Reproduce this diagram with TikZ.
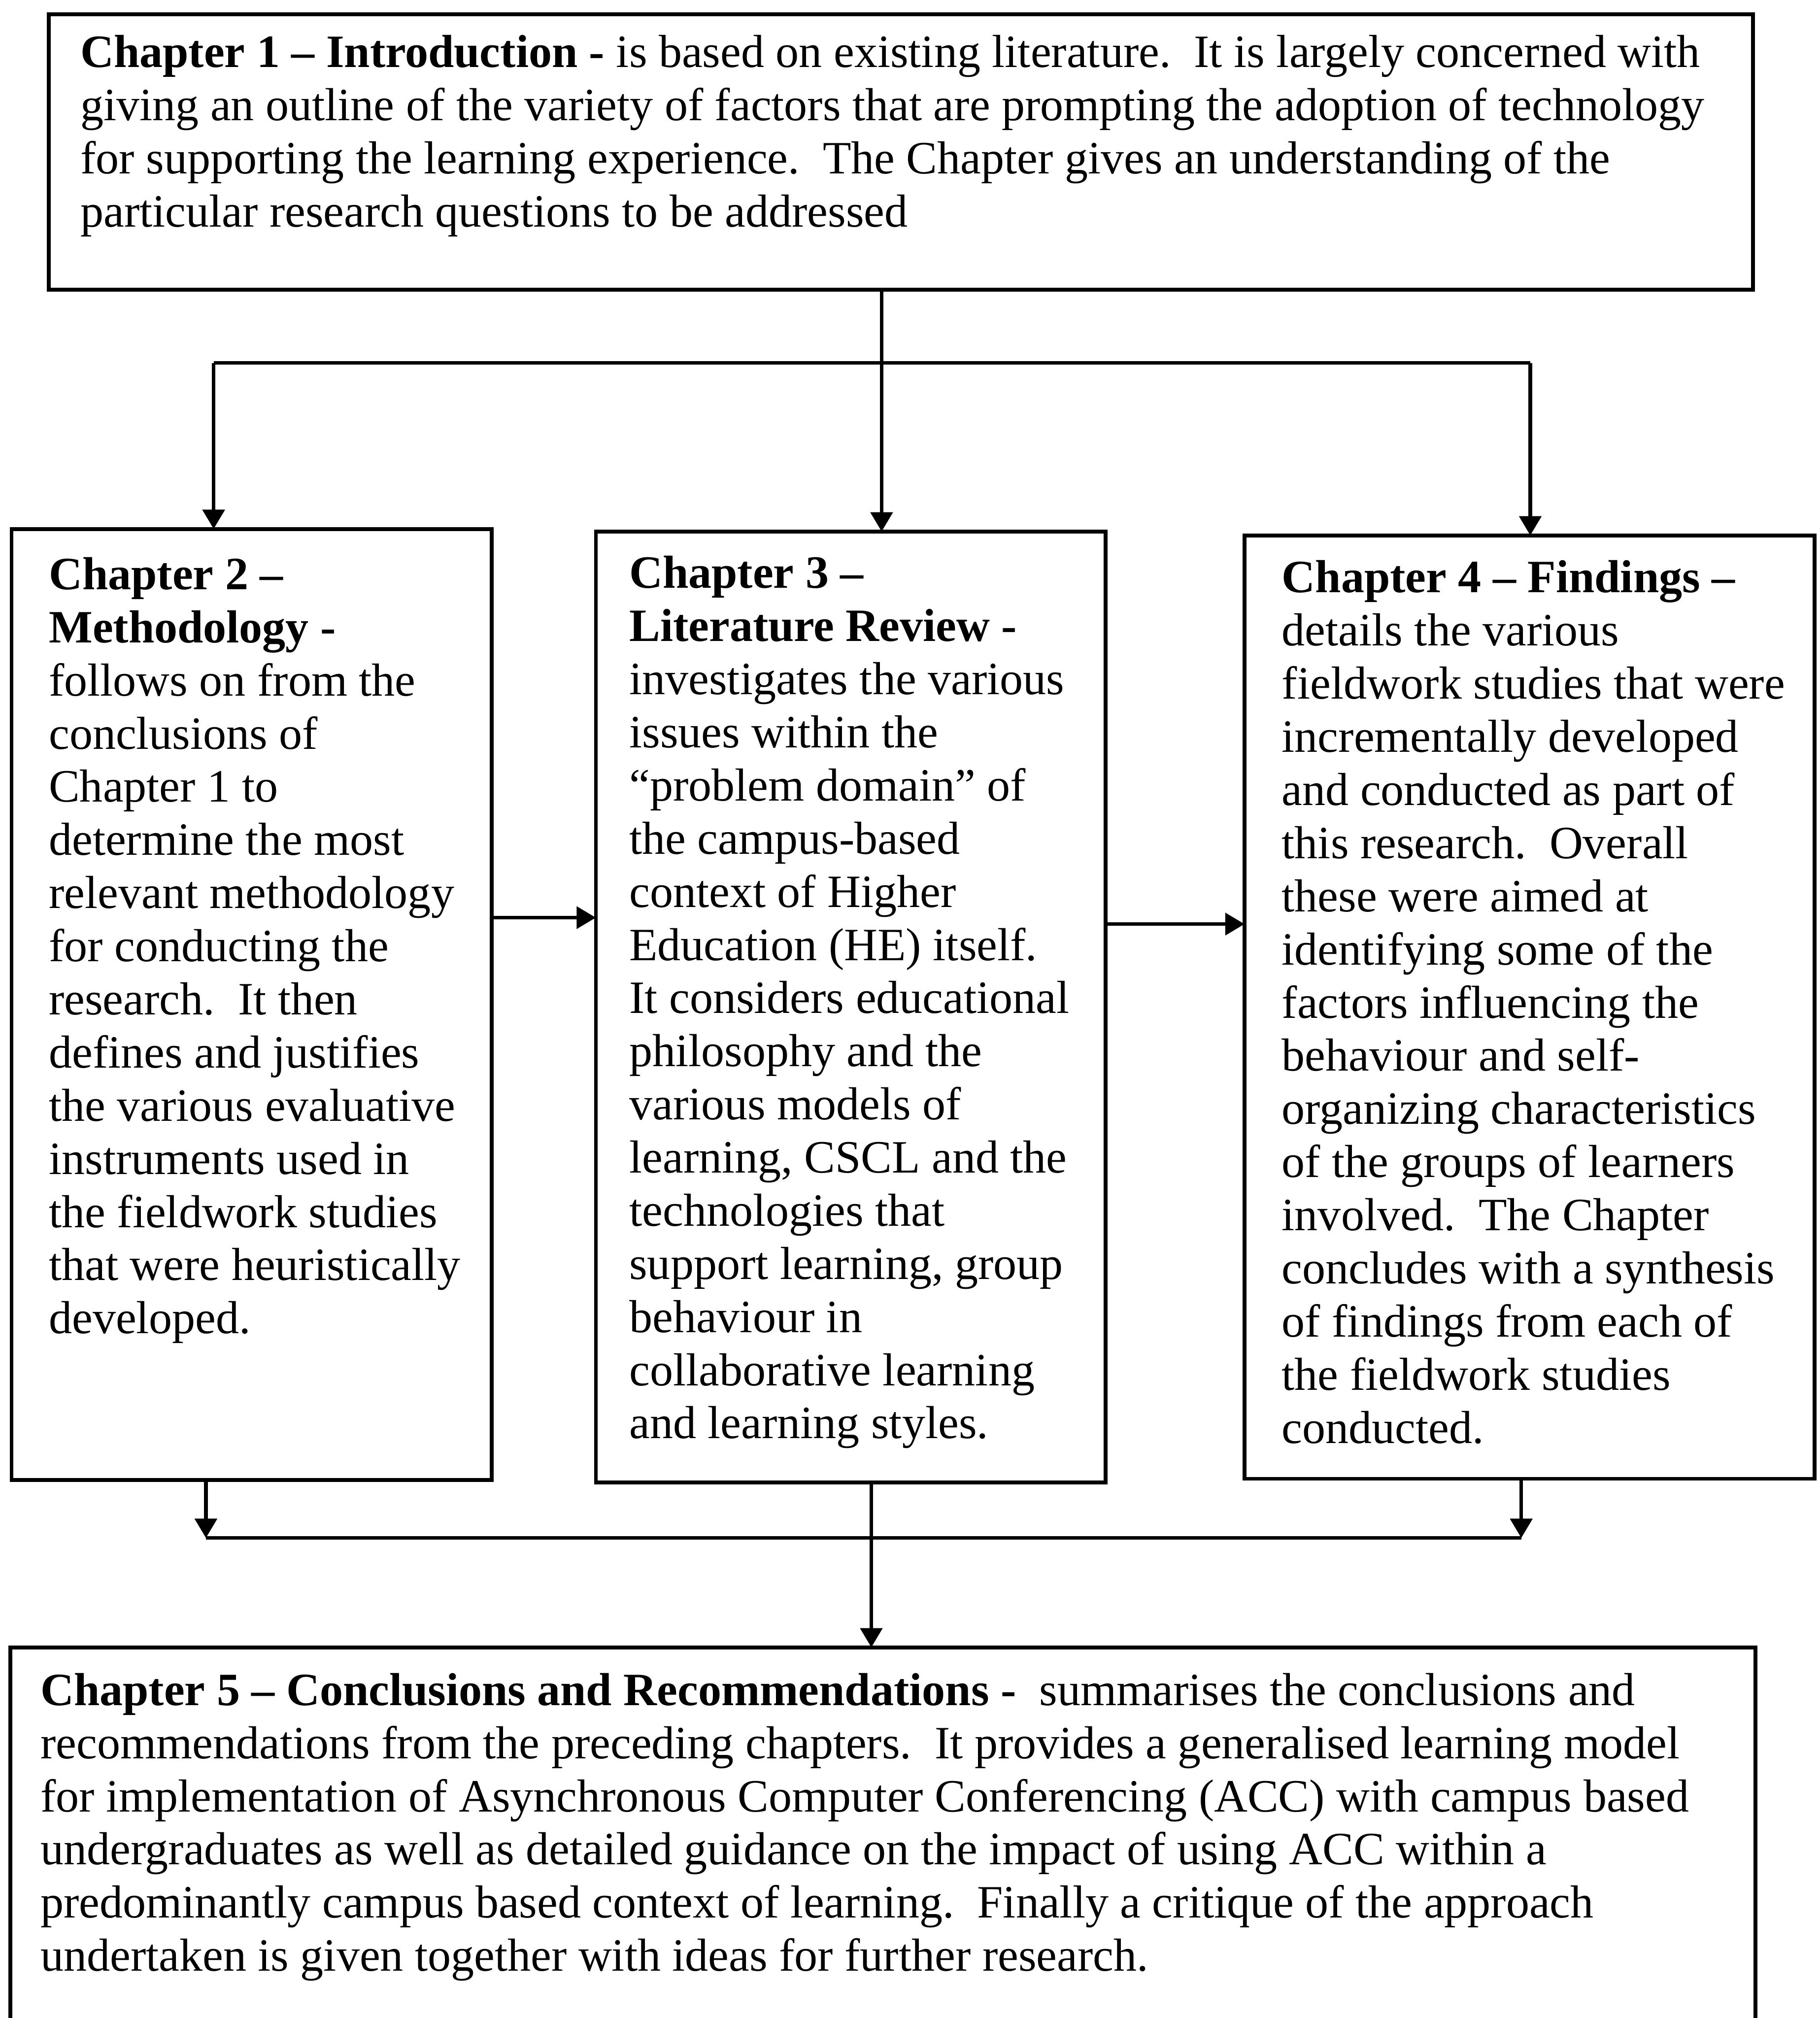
\documentclass[tikz,border=0pt]{standalone}
\usepackage{fontspec}
\setmainfont{Liberation Serif}
\usetikzlibrary{arrows.meta}
\begin{document}
\begin{tikzpicture}[x=0.5pt,y=-0.5pt,
  chbox/.style={draw, line width=1.5pt, inner sep=0pt, outer sep=0pt, anchor=north west},
  chtext/.style={inner sep=0pt, outer sep=0pt, anchor=base west, font=\fontsize{18pt}{20.65pt}\selectfont},
  link/.style={line width=1.4pt},
  arr/.style={link, -{Triangle[length=7.5pt,width=8.5pt]}}]
\useasboundingbox (0,0) rectangle (1414,1568);

% chapter boxes
\node[chbox, minimum width=662pt, minimum height=107pt] (b1) at (38,11) {};
\node[chbox, minimum width=186.5pt, minimum height=369.5pt] (b2) at (9,411) {};
\node[chbox, minimum width=198pt, minimum height=369.5pt] (b3) at (463,413) {};
\node[chbox, minimum width=221.5pt, minimum height=366.5pt] (b4) at (967,416) {};
\node[chbox, minimum width=678pt, minimum height=150pt] (b5) at (8,1280) {};

% chapter texts
\node[chtext] (t1) at (62.5,52.3) {\begin{tabular}[t]{@{}l@{}}
\textbf{Chapter 1 – Introduction -} is based on existing literature.\ \ It is largely concerned with\\
giving an outline of the variety of factors that are prompting the adoption of technology\\
for supporting the learning experience.\ \ The Chapter gives an understanding of the\\
particular research questions to be addressed
\end{tabular}};

\node[chtext] (t2) at (38,458) {\begin{tabular}[t]{@{}l@{}}
\textbf{Chapter 2 –}\\
\textbf{Methodology -}\\
follows on from the\\
conclusions of\\
Chapter 1 to\\
determine the most\\
relevant methodology\\
for conducting the\\
research.\ \ It then\\
defines and justifies\\
the various evaluative\\
instruments used in\\
the fieldwork studies\\
that were heuristically\\
developed.
\end{tabular}};

\node[chtext] (t3) at (489,457) {\begin{tabular}[t]{@{}l@{}}
\textbf{Chapter 3 –}\\
\textbf{Literature Review -}\\
investigates the various\\
issues within the\\
“problem domain” of\\
the campus-based\\
context of Higher\\
Education (HE) itself.\\
It considers educational\\
philosophy and the\\
various models of\\
learning, CSCL and the\\
technologies that\\
support learning, group\\
behaviour in\\
collaborative learning\\
and learning styles.
\end{tabular}};

\node[chtext] (t4) at (996,460.5) {\begin{tabular}[t]{@{}l@{}}
\textbf{Chapter 4 – Findings –}\\
details the various\\
fieldwork studies that were\\
incrementally developed\\
and conducted as part of\\
this research.\ \ Overall\\
these were aimed at\\
identifying some of the\\
factors influencing the\\
behaviour and self-\\
organizing characteristics\\
of the groups of learners\\
involved.\ \ The Chapter\\
concludes with a synthesis\\
of findings from each of\\
the fieldwork studies\\
conducted.
\end{tabular}};

\node[chtext] (t5) at (31.5,1325) {\begin{tabular}[t]{@{}l@{}}
\textbf{Chapter 5 – Conclusions and Recommendations -}\ \ summarises the conclusions and\\
recommendations from the preceding chapters.\ \ It provides a generalised learning model\\
for implementation of Asynchronous Computer Conferencing (ACC) with campus based\\
undergraduates as well as detailed guidance on the impact of using ACC within a\\
predominantly campus based context of learning.\ \ Finally a critique of the approach\\
undertaken is given together with ideas for further research.
\end{tabular}};

% branching from chapter 1
\coordinate (jt) at (685,282);
\coordinate (a2) at (166,282);
\coordinate (a4) at (1189,282);
\draw[link] (b1.south -| jt) -- (jt);
\draw[link] (a2) -- (a4);
\draw[arr] (a2) -- (a2 |- b2.north);
\draw[arr] (jt) -- (jt |- b3.north);
\draw[arr] (a4) -- (a4 |- b4.north);

% side links between the middle row
\coordinate (m23) at (0,713);
\coordinate (m34) at (0,718);
\draw[arr] (b2.east |- m23) -- (b3.west |- m23);
\draw[arr] (b3.east |- m34) -- (b4.west |- m34);

% merging into chapter 5
\coordinate (c2) at (160,1195);
\coordinate (c3) at (677,1195);
\coordinate (c4) at (1182,1195);
\draw[arr] (b2.south -| c2) -- (c2);
\draw[arr] (b4.south -| c4) -- (c4);
\draw[link] (c2) -- (c4);
\draw[arr] (b3.south -| c3) -- (b5.north -| c3);
\end{tikzpicture}
\end{document}
